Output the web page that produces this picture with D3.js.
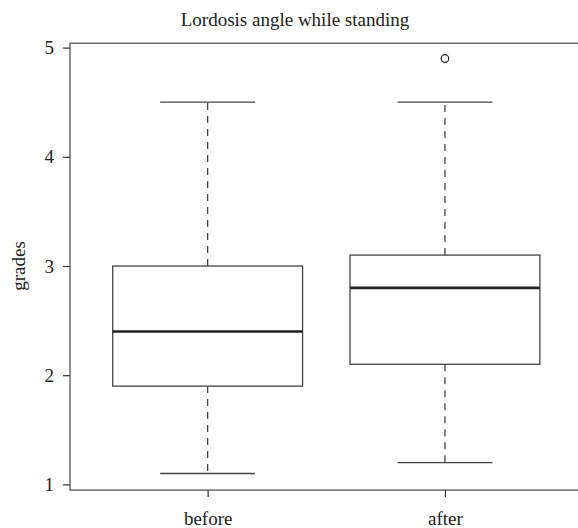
<!DOCTYPE html>
<html>
<head>
<meta charset="utf-8">
<script src="https://cdn.jsdelivr.net/npm/d3@7"></script>
<style>
  body { margin: 0; background: #fff; }
  text { font-family: "Liberation Serif", "DejaVu Serif", serif; fill: #222; }
</style>
</head>
<body>
<div id="chart"></div>
<script>
// boxplot statistics
var groups = ["before", "after"];
var whiskerLow = [1.1, 1.2];
var q1 = [1.9, 2.1];
var median = [2.4, 2.8];
var q3 = [3.0, 3.1];
var whiskerHigh = [4.5, 4.5];
var outliers = [[], [4.9]];
var yTicks = [1, 2, 3, 4, 5];

var W = 578, H = 528;

var svg = d3.select("#chart")
    .append("svg")
    .attr("width", W)
    .attr("height", H);

// positions 1..2, R style xlim 0.5..2.5 plus 4%
var x = d3.scaleLinear()
    .domain([0.42, 2.58])
    .range([70, 582.6]);

var y = d3.scaleLinear()
    .domain([1, 5])
    .range([484.4, 47.6]);

var boxW = x(1.4) - x(0.6);
var capW = boxW / 2;
var lineCol = "#444";

// frame
svg.append("rect")
    .attr("x", x(0.42))
    .attr("y", y(5.04))
    .attr("width", x(2.58) - x(0.42))
    .attr("height", y(0.948) - y(5.04))
    .attr("fill", "none")
    .attr("stroke", "#555")
    .attr("stroke-width", 1.3);

// y axis
var yAxis = svg.append("g")
    .attr("transform", "translate(" + x(0.42) + ",0)")
    .call(d3.axisLeft(y).tickValues(yTicks).tickSize(7).tickPadding(9).tickFormat(d3.format("d")));
yAxis.select(".domain").remove();
yAxis.selectAll("line").attr("stroke", "#333").attr("stroke-width", 1.2);
yAxis.selectAll("text").style("font-size", "19px").style("font-family", "Liberation Serif, serif").attr("fill", "#222");

// x axis
var xAxis = svg.append("g")
    .attr("transform", "translate(0," + y(0.948) + ")")
    .call(d3.axisBottom(x).tickValues([1, 2]).tickSize(7).tickPadding(14)
        .tickFormat(function (d) { return groups[d - 1]; }));
xAxis.select(".domain").remove();
xAxis.selectAll("line").attr("stroke", "#333").attr("stroke-width", 1.2);
xAxis.selectAll("text").style("font-size", "19px").style("font-family", "Liberation Serif, serif").attr("fill", "#222");

// y label
svg.append("text")
    .attr("transform", "translate(25," + y(3) + ") rotate(-90)")
    .attr("text-anchor", "middle")
    .style("font-size", "19px")
    .text("grades");

// title
svg.append("text")
    .attr("x", 295)
    .attr("y", 26)
    .attr("text-anchor", "middle")
    .style("font-size", "19px")
    .text("Lordosis angle while standing");

// boxes
groups.forEach(function (g, i) {
    var cx = x(i + 1);
    var b = svg.append("g");

    // whiskers
    b.append("line")
        .attr("x1", cx).attr("x2", cx)
        .attr("y1", y(q3[i])).attr("y2", y(whiskerHigh[i]))
        .attr("stroke", lineCol).attr("stroke-width", 1.3)
        .attr("stroke-dasharray", "7,6");
    b.append("line")
        .attr("x1", cx).attr("x2", cx)
        .attr("y1", y(q1[i])).attr("y2", y(whiskerLow[i]))
        .attr("stroke", lineCol).attr("stroke-width", 1.3)
        .attr("stroke-dasharray", "7,6");

    // caps
    [whiskerLow[i], whiskerHigh[i]].forEach(function (v) {
        b.append("line")
            .attr("x1", cx - capW / 2).attr("x2", cx + capW / 2)
            .attr("y1", y(v)).attr("y2", y(v))
            .attr("stroke", lineCol).attr("stroke-width", 1.3);
    });

    // box
    b.append("rect")
        .attr("x", cx - boxW / 2)
        .attr("y", y(q3[i]))
        .attr("width", boxW)
        .attr("height", y(q1[i]) - y(q3[i]))
        .attr("fill", "#fff")
        .attr("stroke", lineCol)
        .attr("stroke-width", 1.3);

    // median
    b.append("line")
        .attr("x1", cx - boxW / 2).attr("x2", cx + boxW / 2)
        .attr("y1", y(median[i])).attr("y2", y(median[i]))
        .attr("stroke", "#222").attr("stroke-width", 2.6);

    // outliers
    b.selectAll(".out")
        .data(outliers[i])
        .enter()
        .append("circle")
        .attr("cx", cx)
        .attr("cy", function (d) { return y(d); })
        .attr("r", 3.8)
        .attr("fill", "none")
        .attr("stroke", "#222")
        .attr("stroke-width", 1.2);
});
</script>
</body>
</html>
